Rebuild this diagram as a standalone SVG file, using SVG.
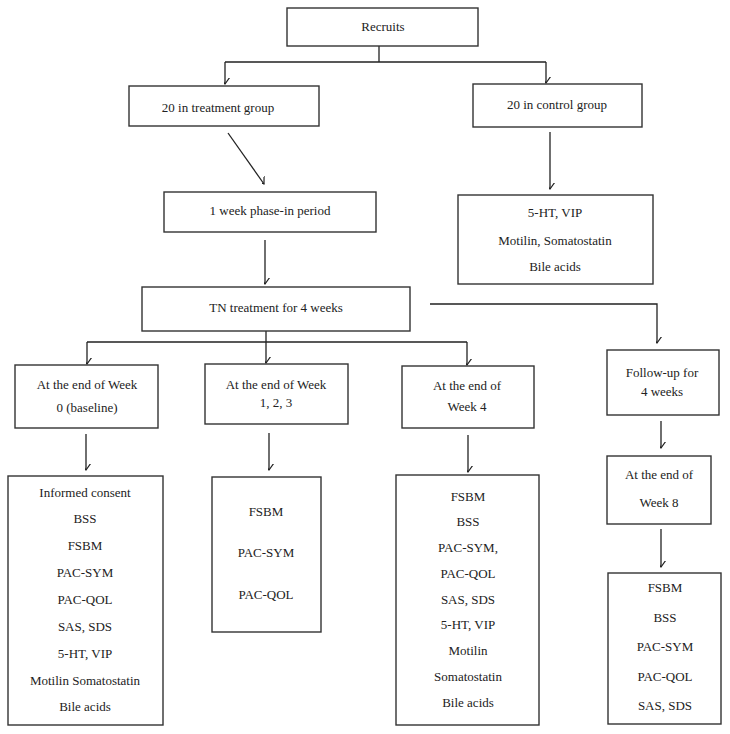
<svg xmlns="http://www.w3.org/2000/svg" width="730" height="734" viewBox="0 0 730 734">
<defs>
<marker id="arr" markerUnits="userSpaceOnUse" markerWidth="12" markerHeight="10" viewBox="-6 -9 12 10" refX="0" refY="0" orient="auto-start-reverse">
<path d="M-5,-7 L0,0 L5,-7" fill="none" stroke="#222" stroke-width="1.2" transform="rotate(-90)"/>
</marker>
<style>
rect{fill:#fff;stroke:#333;stroke-width:1.4}
text{font-family:"Liberation Serif","Times New Roman",serif;font-size:13px;fill:#222;text-anchor:middle}
.c path{fill:none;stroke:#222;stroke-width:1.3}
</style>
</defs>
<rect x="0" y="0" width="730" height="734" style="stroke:none;fill:#fff"/>
<g class="c" id="connectors">
<path d="M379,46 V62 M225,62 H546"/>
<path d="M225,62 V84" marker-end="url(#arr)"/>
<path d="M546,62 V83" marker-end="url(#arr)"/>
<path d="M228,133 L264,184" marker-end="url(#arr)"/>
<path d="M550,132 V189" marker-end="url(#arr)"/>
<path d="M265,240 V284" marker-end="url(#arr)"/>
<path d="M266,331 V342 M87,342 H467"/>
<path d="M87,342 V364" marker-end="url(#arr)"/>
<path d="M266,342 V363" marker-end="url(#arr)"/>
<path d="M467,342 V365" marker-end="url(#arr)"/>
<path d="M430,304 H657 V343" marker-end="url(#arr)"/>
<path d="M86,434 V470" marker-end="url(#arr)"/>
<path d="M269,433 V470" marker-end="url(#arr)"/>
<path d="M468,435 V472" marker-end="url(#arr)"/>
<path d="M661,421 V448" marker-end="url(#arr)"/>
<path d="M661,529 V567" marker-end="url(#arr)"/>
</g>
<g id="recruits"><rect x="287" y="8" width="191" height="38"/><text x="383" y="31">Recruits</text></g>
<g id="treatment"><rect x="129" y="86" width="190" height="40"/><text x="218" y="112">20 in treatment group</text></g>
<g id="control"><rect x="473" y="84" width="169" height="43"/><text x="557" y="109">20 in control group</text></g>
<g id="phasein"><rect x="164" y="192" width="212" height="40"/><text x="270" y="215">1 week phase-in period</text></g>
<g id="controlresults"><rect x="458" y="195" width="195" height="89"/>
<text x="555" y="217">5-HT, VIP</text><text x="555" y="245">Motilin, Somatostatin</text><text x="555" y="271">Bile acids</text></g>
<g id="tn"><rect x="142" y="287" width="268" height="44"/><text x="276" y="312">TN treatment for 4 weeks</text></g>
<g id="week0"><rect x="15" y="365" width="143" height="63"/><text x="87" y="389">At the end of Week</text><text x="87" y="412">0 (baseline)</text></g>
<g id="week123"><rect x="205" y="364" width="143" height="60"/><text x="276" y="389">At the end of Week</text><text x="276" y="407">1, 2, 3</text></g>
<g id="week4"><rect x="402" y="366" width="132" height="62"/><text x="467" y="390">At the end of</text><text x="467" y="411">Week 4</text></g>
<g id="followup"><rect x="607" y="350" width="112" height="65"/><text x="662" y="377">Follow-up for</text><text x="662" y="396">4 weeks</text></g>
<g id="week8"><rect x="607" y="456" width="104" height="68"/><text x="659" y="479">At the end of</text><text x="659" y="507">Week 8</text></g>
<g id="baselineitems"><rect x="8" y="476" width="155" height="249"/>
<text x="85" y="497">Informed consent</text><text x="85" y="523">BSS</text><text x="85" y="550">FSBM</text><text x="85" y="577">PAC-SYM</text><text x="85" y="604">PAC-QOL</text><text x="85" y="631">SAS, SDS</text><text x="85" y="658">5-HT, VIP</text><text x="85" y="685">Motilin Somatostatin</text><text x="85" y="711">Bile acids</text></g>
<g id="week123items"><rect x="212" y="477" width="109" height="155"/>
<text x="266" y="516">FSBM</text><text x="266" y="557">PAC-SYM</text><text x="266" y="599">PAC-QOL</text></g>
<g id="week4items"><rect x="396" y="475" width="143" height="250"/>
<text x="468" y="501">FSBM</text><text x="468" y="526">BSS</text><text x="468" y="552">PAC-SYM,</text><text x="468" y="578">PAC-QOL</text><text x="468" y="604">SAS, SDS</text><text x="468" y="629">5-HT, VIP</text><text x="468" y="655">Motilin</text><text x="468" y="681">Somatostatin</text><text x="468" y="707">Bile acids</text></g>
<g id="week8items"><rect x="608" y="573" width="113" height="151"/>
<text x="665" y="592">FSBM</text><text x="665" y="622">BSS</text><text x="665" y="651">PAC-SYM</text><text x="665" y="681">PAC-QOL</text><text x="665" y="710">SAS, SDS</text></g>
</svg>
